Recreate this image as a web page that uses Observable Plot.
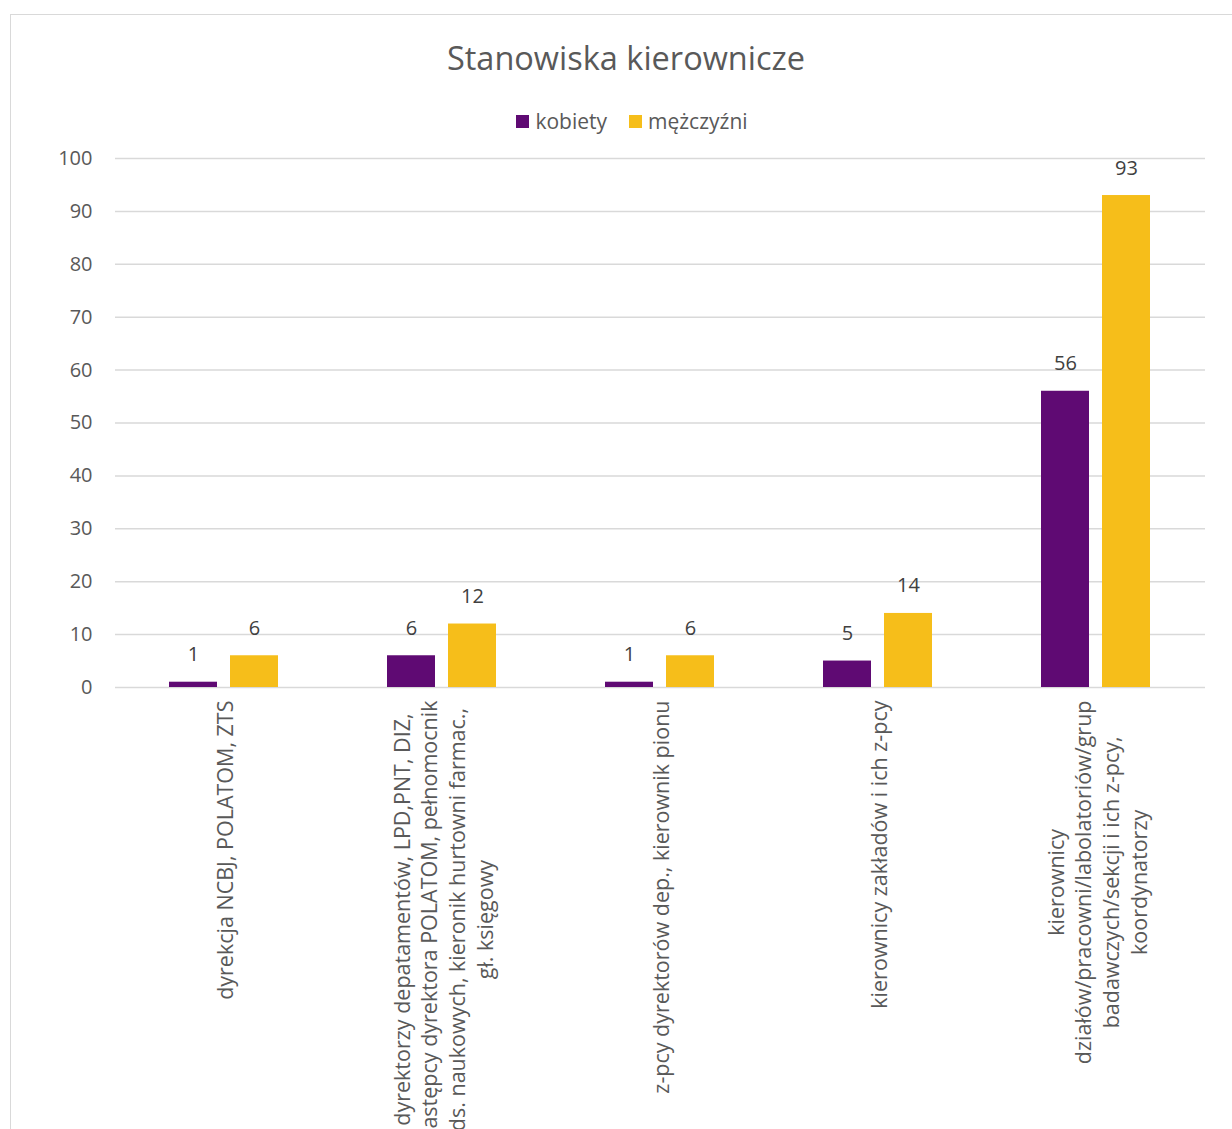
<!DOCTYPE html>
<html><head><meta charset="utf-8">
<script src="https://cdn.jsdelivr.net/npm/d3@7"></script>
<script src="https://cdn.jsdelivr.net/npm/@observablehq/plot@0.6"></script>
<style>
html,body{margin:0;padding:0;background:#fff;overflow:hidden;}
body{font-family:"Open Sans",sans-serif;color:#595959;}
#frame{position:absolute;left:10px;top:14px;width:1400px;height:1400px;border:1.5px solid #d9d9d9;box-sizing:border-box;}
#title{position:absolute;top:36px;left:0;width:1252px;text-align:center;font-size:32.5px;line-height:44px;}
#legend{position:absolute;top:107px;left:0;width:1264px;display:flex;justify-content:center;align-items:center;font-size:21px;gap:22px;}
#legend .it{display:flex;align-items:center;gap:6px;}
#legend .sw{width:13px;height:13px;display:inline-block;}
#chart{position:absolute;top:140px;left:0;}
</style></head>
<body>
<div id="frame"></div>
<div id="title">Stanowiska kierownicze</div>
<div id="legend"></div>
<div id="chart"></div>
<script>
const categories = [
  "dyrekcja NCBJ, POLATOM, ZTS",
  "dyrektorzy depatamentów, LPD,PNT, DIZ,\nzastępcy dyrektora POLATOM, pełnomocnik\nds. naukowych, kieronik hurtowni farmac.,\ngł. księgowy",
  "z-pcy dyrektorów dep., kierownik pionu",
  "kierownicy zakładów i ich z-pcy",
  "kierownicy\ndziałów/pracowni/labolatoriów/grup\nbadawczych/sekcji i ich z-pcy,\nkoordynatorzy"
];
const series = ["kobiety", "mężczyźni"];
const kobiety = [1, 6, 1, 5, 56];
const mezczyzni = [6, 12, 6, 14, 93];
const yTicks = [0, 10, 20, 30, 40, 50, 60, 70, 80, 90, 100];
const colors = ["#5f0a73", "#f6be1a"];

const rows = categories.flatMap((c, i) => [
  {cat: c, s: series[0], v: kobiety[i]},
  {cat: c, s: series[1], v: mezczyzni[i]}
]);

const FS = 20;
const CFS = 21.5;
const ctx = document.createElement("canvas").getContext("2d");
ctx.font = `${CFS}px "Open Sans"`;
const maxW = c => Math.max(...c.split("\n").map(l => ctx.measureText(l).width));

const legend = document.getElementById("legend");
series.forEach((s, i) => {
  const it = document.createElement("span");
  it.className = "it";
  it.innerHTML = `<span class="sw" style="background:${colors[i]}"></span><span>${s}</span>`;
  legend.appendChild(it);
});

const chart = Plot.plot({
  width: 1232,
  height: 1000,
  marginLeft: 113,
  marginRight: 25,
  marginTop: 18,
  marginBottom: 453,
  style: {fontFamily: "Open Sans", fontSize: FS + "px", color: "#595959", background: "transparent"},
  fx: {domain: categories, padding: 0, axis: null},
  x: {domain: series, paddingInner: 0.21, paddingOuter: 0.87, axis: null},
  y: {domain: [0, 100], axis: null},
  color: {domain: series, range: colors},
  marks: [
    Plot.gridY(yTicks, {stroke: "#d9d9d9", strokeOpacity: 1, strokeWidth: 1.5}),
    Plot.axisY(yTicks, {tickSize: 0, tickPadding: 23, label: null, fill: "#595959", fontSize: FS}),
    Plot.barY(rows, {fx: "cat", x: "s", y: "v", fill: "s"}),
    Plot.text(rows, {fx: "cat", x: "s", y: "v", text: "v", lineAnchor: "bottom", dy: -21, fill: "#404040", fontSize: FS}),
    ...categories.map(c => Plot.text([c], {
      fx: d => d, text: d => d, frameAnchor: "bottom", rotate: -90,
      textAnchor: "middle", lineAnchor: "middle", lineHeight: 1.3,
      dy: 13 + maxW(c) / 2, fill: "#595959", fontSize: CFS
    }))
  ]
});
document.getElementById("chart").appendChild(chart);
</script>
</body></html>
